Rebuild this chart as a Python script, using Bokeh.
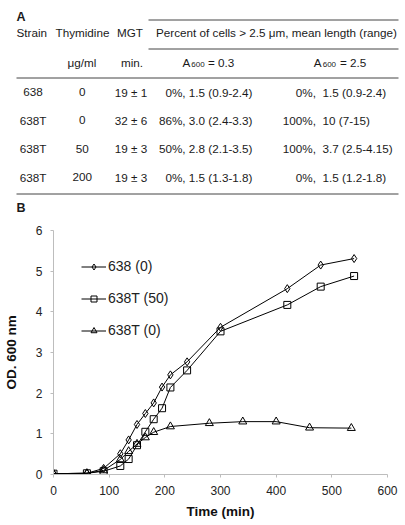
from bokeh.plotting import figure
from bokeh.models import Range1d, FixedTicker
from bokeh.embed import file_html
from bokeh.resources import INLINE
from bokeh.core.properties import value

# ---------------- data ----------------
# Panel A table
strains = ["638", "638T", "638T", "638T"]
thymidine_ugml = ["0", "0", "50", "200"]
mgt_min = ["19 ± 1", "32 ± 6", "19 ± 3", "19 ± 3"]
a03_cells = ["0%, 1.5 (0.9-2.4)", "86%, 3.0 (2.4-3.3)", "50%, 2.8 (2.1-3.5)", "0%, 1.5 (1.3-1.8)"]
a25_pct = ["0%,", "100%,", "100%,", "0%,"]
a25_len = ["1.5 (0.9-2.4)", "10  (7-15)", "3.7 (2.5-4.15)", "1.5  (1.2-1.8)"]

# Panel B growth curves
time_638 = [0, 60, 90, 120, 135, 150, 165, 180, 195, 210, 240, 300, 420, 480, 540]
od_638 = [0.02, 0.03, 0.15, 0.51, 0.85, 1.23, 1.50, 1.76, 2.15, 2.45, 2.77, 3.62, 4.57, 5.15, 5.31]
time_638T50 = [0, 60, 90, 120, 135, 150, 165, 180, 195, 210, 240, 300, 420, 480, 540]
od_638T50 = [0.02, 0.03, 0.08, 0.21, 0.38, 0.72, 1.05, 1.36, 1.63, 2.14, 2.56, 3.52, 4.17, 4.62, 4.88]
time_638T0 = [0, 60, 90, 120, 135, 150, 165, 180, 210, 280, 340, 400, 460, 535]
od_638T0 = [0.02, 0.03, 0.10, 0.37, 0.57, 0.75, 0.91, 1.04, 1.18, 1.26, 1.30, 1.30, 1.15, 1.14]

x_ticks = [0, 100, 200, 300, 400, 500, 600]
y_ticks = [0, 1, 2, 3, 4, 5, 6]

FONT = "Liberation Sans"
TXT = "#1a1a1a"
W = 405
TOP_H = 215

# ---------------- panel A (table) ----------------
t = figure(width=W, height=TOP_H, x_range=Range1d(0, W), y_range=Range1d(TOP_H, 0),
           output_backend="svg", toolbar_location=None,
           x_axis_type=None, y_axis_type=None, min_border=0)
t.outline_line_color = None
t.xgrid.visible = False
t.ygrid.visible = False


def txt(xs, ys, texts, size="11.7px", align="center", style="normal"):
    t.text(x=xs, y=ys, text=texts, text_font=value(FONT), text_font_size=size,
           text_align=align, text_baseline="alphabetic", text_color=TXT,
           text_font_style=style)


# rules
t.segment(x0=[148, 148, 16, 16], y0=[19.5, 48.5, 77.5, 193.5],
          x1=[398, 398, 398, 398], y1=[19.5, 48.5, 77.5, 193.5],
          line_color="#444444", line_width=1)

txt([16], [16.7], ["A"], size="12.5px", align="left", style="bold")
txt([16], [207.3], ["B"], size="12.5px", align="left", style="bold")

# header row 1
txt([31.3, 82, 129.5, 276], [31.7] * 4,
    ["Strain", "Thymidine", "MGT", "Percent of cells > 2.5 μm, mean length (range)"])
# header row 2
txt([81.5, 131.5], [61.7, 61.7], ["μg/ml", "min."])
txt([182, 313.3], [61.7, 61.7], ["A", "A"], align="left")
txt([190.8, 322.2], [63.8, 63.8], ["600", "600"], size="8px", align="left")
txt([207.5, 339.5], [61.7, 61.7], ["= 0.3", "= 2.5"], align="left")

# body rows
row_base = [91.5 + 28.4 * i for i in range(len(strains))]
txt([32.5] * 4, row_base, strains)
txt([81.8] * 4, row_base, thymidine_ugml)
txt([130.5] * 4, row_base, mgt_min)
txt([252] * 4, row_base, a03_cells, align="right")
txt([315.5] * 4, row_base, a25_pct, align="right")
txt([322] * 4, row_base, a25_len, align="left")

# ---------------- panel B (plot) ----------------
p = figure(width=W, height=525 - TOP_H, x_range=Range1d(0, 600), y_range=Range1d(0, 6),
           output_backend="svg", toolbar_location=None,
           min_border_left=52, min_border_right=18, min_border_top=230 - TOP_H,
           min_border_bottom=51)
p.outline_line_color = None
p.xgrid.visible = False
p.ygrid.visible = False

series = [
    (time_638, od_638, "diamond", 8, "638 (0)"),
    (time_638T50, od_638T50, "square", 7, "638T (50)"),
    (time_638T0, od_638T0, "triangle", 8, "638T (0)"),
]
for xs, ys, mk, sz, lab in series:
    p.line(xs, ys, line_color="black", line_width=1, legend_label=lab)
    p.scatter(xs, ys, marker=mk, size=sz, fill_color=None, line_color="black",
              line_width=1, legend_label=lab)

for ax, ticks in ((p.xaxis, x_ticks), (p.yaxis, y_ticks)):
    ax.ticker = FixedTicker(ticks=ticks)
    ax.axis_line_color = "#bdbdbd"
    ax.major_tick_line_color = "#bdbdbd"
    ax.minor_tick_line_color = None
    ax.major_tick_in = 0
    ax.major_tick_out = 3
    ax.major_label_text_font = FONT
    ax.major_label_text_font_size = "12px"
    ax.major_label_text_color = "#222222"
    ax.major_label_standoff = 8
    ax.axis_label_text_font = FONT
    ax.axis_label_text_font_size = "13.5px"
    ax.axis_label_text_font_style = "bold"
    ax.axis_label_text_color = "#111111"

p.xaxis.axis_label = "Time (min)"
p.xaxis.axis_label_standoff = 6
p.yaxis.axis_label = "OD. 600 nm"
p.yaxis.axis_label_standoff = 14

lg = p.legend[0]
lg.location = (28, 134)
lg.padding = 0
lg.margin = 0
lg.spacing = 12
lg.border_line_color = None
lg.background_fill_alpha = 0
lg.glyph_width = 25
lg.glyph_height = 15
lg.label_height = 20
lg.label_standoff = 2
lg.label_text_font = FONT
lg.label_text_font_size = "14px"
lg.label_text_color = "#222222"

open("out.html", "w").write(file_html([t, p], INLINE))
